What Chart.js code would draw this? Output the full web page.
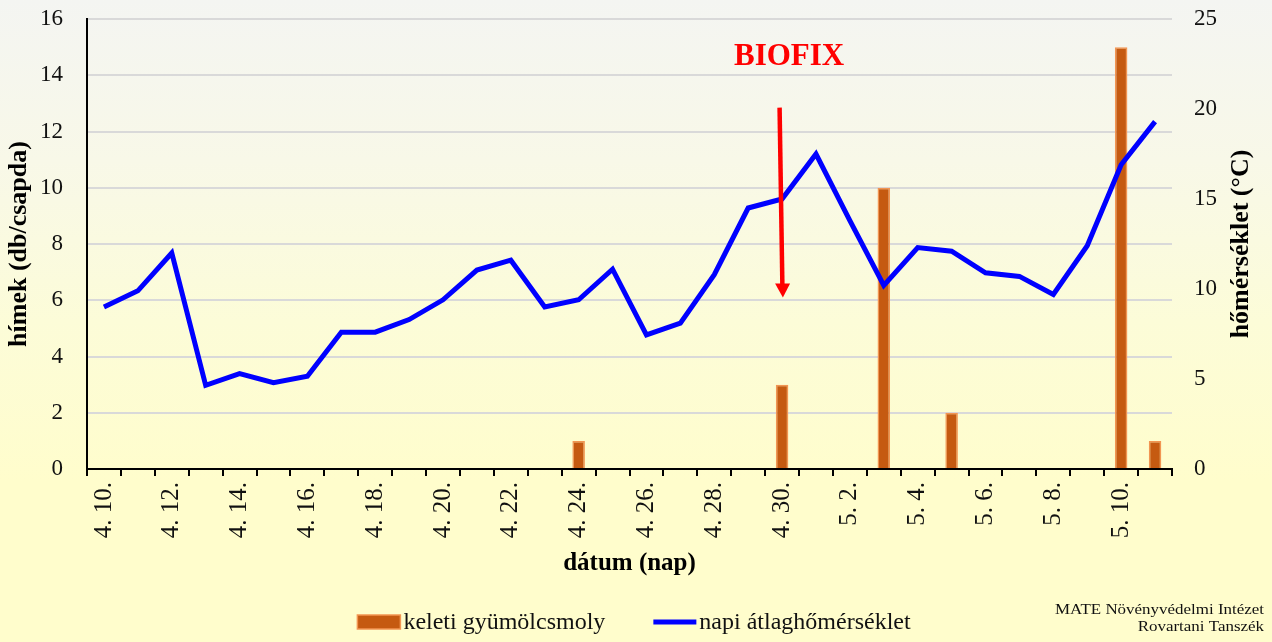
<!DOCTYPE html>
<html>
<head>
<meta charset="utf-8">
<script src="https://cdn.jsdelivr.net/npm/chart.js@4.4.1/dist/chart.umd.min.js"></script>
<style>
  html, body { margin: 0; padding: 0; width: 1272px; height: 642px; overflow: hidden; }
  body { background: linear-gradient(to bottom, #F4F5F2 0%, #F8F8E8 25%, #FCFCD8 50%, #FFFDCC 75%, #FFFDCC 100%); }
  canvas { display: block; }
</style>
</head>
<body>
<canvas id="c" width="1272" height="642"></canvas>
<script>
// ---- data ----
const categories = ['4. 10.','4. 11.','4. 12.','4. 13.','4. 14.','4. 15.','4. 16.','4. 17.','4. 18.','4. 19.',
  '4. 20.','4. 21.','4. 22.','4. 23.','4. 24.','4. 25.','4. 26.','4. 27.','4. 28.','4. 29.','4. 30.',
  '5. 1.','5. 2.','5. 3.','5. 4.','5. 5.','5. 6.','5. 7.','5. 8.','5. 9.','5. 10.','5. 11.'];
const mothCounts = [0,0,0,0,0,0,0,0,0,0, 0,0,0,0,1,0,0,0,0,0,3, 0,0,10,0,2,0,0,0,0,15,1];
const dailyTemps = [9.0,9.9,12.0,4.65,5.3,4.8,5.15,7.6,7.6,8.3, 9.4,11.05,11.6,9.0,9.4,11.1,7.45,8.1,10.8,14.5,15.0,
  17.5,13.8,10.2,12.3,12.1,10.9,10.7,9.7,12.4,16.9,19.3];
const countTicks = { min: 0, max: 16, step: 2 };
const tempTicks = { min: 0, max: 25, step: 5 };
const seriesNames = ['keleti gyümölcsmoly', 'napi átlaghőmérséklet'];
const axisTitles = { x: 'dátum (nap)', yLeft: 'hímek (db/csapda)', yRight: 'hőmérséklet (°C)' };
const biofix = { text: 'BIOFIX', categoryIndex: 20, textValue: 14.65, arrowTop: 12.85, arrowTip: 6.1 };
const credits = ['MATE Növényvédelmi Intézet', 'Rovartani Tanszék'];

const SERIF = '"Liberation Serif", "Times New Roman", serif';

const extras = {
  id: 'extras',
  afterDatasetsDraw(chart) {
    const ctx = chart.ctx;
    const xs = chart.scales.x, ys = chart.scales.y;
    const cx = xs.getPixelForValue(biofix.categoryIndex);
    const yTop = ys.getPixelForValue(biofix.arrowTop);
    const yTip = ys.getPixelForValue(biofix.arrowTip);
    ctx.save();
    ctx.strokeStyle = '#FF0000';
    ctx.fillStyle = '#FF0000';
    ctx.lineWidth = 4.5;
    ctx.beginPath();
    ctx.moveTo(cx - 2.5, yTop);
    ctx.lineTo(cx + 0.3, yTip - 12);
    ctx.stroke();
    ctx.beginPath();
    ctx.moveTo(cx - 7, yTip - 14);
    ctx.lineTo(cx + 8, yTip - 14);
    ctx.lineTo(cx + 0.8, yTip);
    ctx.closePath();
    ctx.fill();
    ctx.font = 'bold 31px ' + SERIF;
    ctx.textAlign = 'center';
    ctx.textBaseline = 'middle';
    ctx.fillText(biofix.text, cx + 7, ys.getPixelForValue(biofix.textValue));
    ctx.restore();
  },
  afterDraw(chart) {
    const ctx = chart.ctx;
    const area = chart.chartArea;
    ctx.save();
    // right axis title (reads bottom-to-top)
    ctx.translate(area.right + 69, (area.top + area.bottom) / 2);
    ctx.rotate(-Math.PI / 2);
    ctx.font = 'bold 26px ' + SERIF;
    ctx.fillStyle = '#000';
    ctx.textAlign = 'center';
    ctx.textBaseline = 'middle';
    ctx.fillText(axisTitles.yRight, 0, 0);
    ctx.restore();

    // legend
    const dsBar = chart.data.datasets[0], dsLine = chart.data.datasets[1];
    ctx.save();
    ctx.font = '24px ' + SERIF;
    const w1 = ctx.measureText(dsBar.label).width;
    const w2 = ctx.measureText(dsLine.label).width;
    const boxW = 43, gap = 3, sep = 48;
    const total = boxW + gap + w1 + sep + boxW + gap + w2;
    let x = 634 - total / 2;
    const y = 622;
    ctx.fillStyle = dsBar.backgroundColor;
    ctx.fillRect(x, y - 7, boxW, 14);
    ctx.strokeStyle = dsBar.borderColor;
    ctx.lineWidth = 1.5;
    ctx.strokeRect(x, y - 7, boxW, 14);
    ctx.fillStyle = '#111';
    ctx.textBaseline = 'middle';
    ctx.textAlign = 'left';
    ctx.fillText(dsBar.label, x + boxW + gap, y + 1);
    const x2 = x + boxW + gap + w1 + sep;
    ctx.strokeStyle = dsLine.borderColor;
    ctx.lineWidth = 5;
    ctx.beginPath();
    ctx.moveTo(x2, y);
    ctx.lineTo(x2 + boxW, y);
    ctx.stroke();
    ctx.fillText(dsLine.label, x2 + boxW + gap, y + 1);
    ctx.restore();

    // credits
    ctx.save();
    ctx.font = '15px ' + SERIF;
    ctx.fillStyle = '#111';
    const cw = ctx.measureText(credits[0]).width;
    const sx = 209 / cw;
    ctx.textAlign = 'right';
    ctx.textBaseline = 'middle';
    ctx.translate(1264, 0);
    ctx.scale(sx, 1);
    ctx.fillText(credits[0], 0, 610);
    ctx.fillText(credits[1], 0, 627);
    ctx.restore();
  }
};

new Chart(document.getElementById('c'), {
  type: 'bar',
  data: {
    labels: categories,
    datasets: [
      {
        type: 'bar', label: seriesNames[0], data: mothCounts, yAxisID: 'y',
        backgroundColor: '#C55A11', borderColor: '#F29552', borderWidth: 1.5,
        barPercentage: 0.37, categoryPercentage: 1, order: 1
      },
      {
        type: 'line', label: seriesNames[1], data: dailyTemps, yAxisID: 'y1',
        borderColor: '#0000FF', backgroundColor: '#0000FF', borderWidth: 5,
        pointRadius: 0, tension: 0, fill: false, order: 0,
        borderJoinStyle: 'miter'
      }
    ]
  },
  options: {
    responsive: false,
    animation: false,
    devicePixelRatio: 1,
    layout: { padding: { top: 19, bottom: 63, left: 0, right: 0 } },
    plugins: { legend: { display: false }, tooltip: { enabled: false } },
    scales: {
      x: {
        offset: true,
        grid: { offset: true, drawOnChartArea: false, drawTicks: true, tickLength: 7, color: '#000', lineWidth: 2 },
        border: { display: true, color: '#000', width: 2 },
        ticks: {
          autoSkip: false, maxRotation: 90, minRotation: 90, padding: 6,
          font: { family: SERIF, size: 25 }, color: '#111',
          callback: (v, i) => (i % 2 === 0 ? categories[i] : '')
        },
        title: { display: true, text: axisTitles.x, color: '#000',
          font: { family: SERIF, size: 25, weight: 'bold' }, padding: { top: 0, bottom: 0 } },
        afterFit: s => { s.height = 110; }
      },
      y: {
        position: 'left', min: countTicks.min, max: countTicks.max,
        ticks: { stepSize: countTicks.step, padding: 24, font: { family: SERIF, size: 23 }, color: '#111' },
        grid: { color: '#D9D9D9', lineWidth: 2, drawTicks: false },
        border: { display: true, color: '#000', width: 2 },
        title: { display: true, text: axisTitles.yLeft, color: '#000',
          font: { family: SERIF, size: 26, weight: 'bold' }, padding: { top: 4, bottom: 0 } },
        afterFit: s => { s.width = 87; s.paddingTop = 0; s.paddingBottom = 0; }
      },
      y1: {
        position: 'right', min: tempTicks.min, max: tempTicks.max,
        ticks: { stepSize: tempTicks.step, padding: 22, font: { family: SERIF, size: 23 }, color: '#111' },
        grid: { display: false, drawTicks: false },
        border: { display: false },
        afterFit: s => { s.width = 100; s.paddingTop = 0; s.paddingBottom = 0; }
      }
    }
  },
  plugins: [extras]
});
</script>
</body>
</html>
